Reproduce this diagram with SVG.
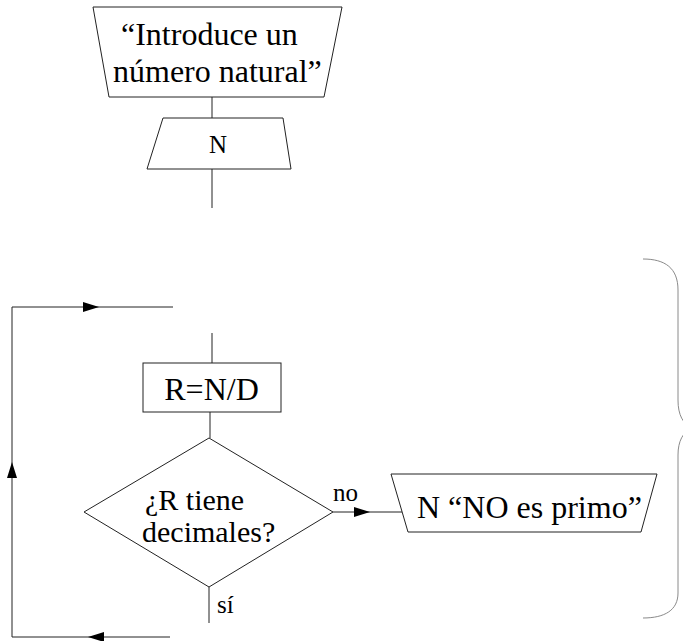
<svg xmlns="http://www.w3.org/2000/svg" width="683" height="641" viewBox="0 0 683 641">
  <style>
    .shape { fill: #fff; stroke: #222; stroke-width: 1; }
    .wire { fill: none; stroke: #222; stroke-width: 1; }
    .brace { fill: none; stroke: #8a8a8a; stroke-width: 1; }
    text { font-family: 'Liberation Serif', 'DejaVu Serif', serif; fill: #000; }
    .t { font-size: 32px; }
    .d { font-size: 30px; }
    .s { font-size: 25px; }
  </style>
  <defs>
    <marker id="arrow" viewBox="0 0 16 10" refX="16" refY="5" markerWidth="16" markerHeight="10" markerUnits="userSpaceOnUse" orient="auto">
      <path d="M0,0 L16,5 L0,10 Z" fill="#000"/>
    </marker>
  </defs>
  <rect width="683" height="641" fill="#fff"/>

  <!-- connectors -->
  <g id="connectors">
    <line class="wire" x1="212" y1="97" x2="212" y2="118"/>
    <line class="wire" x1="212" y1="169" x2="212" y2="208"/>
    <line class="wire" x1="212" y1="333" x2="212" y2="363"/>
    <line class="wire" x1="210" y1="412" x2="210" y2="438"/>
    <line class="wire" x1="209" y1="587" x2="209" y2="623"/>
    <!-- "no" branch with arrow at mid-line -->
    <path class="wire" d="M333,512 L370,512" marker-end="url(#arrow)"/>
    <line class="wire" x1="370" y1="512" x2="402" y2="512"/>
    <!-- loop back: bottom, left side, top -->
    <line class="wire" x1="170" y1="637" x2="104" y2="637"/>
    <path class="wire" d="M104,637 L88,637" marker-end="url(#arrow)"/>
    <line class="wire" x1="88" y1="637" x2="12" y2="637"/>
    <line class="wire" x1="12" y1="637" x2="12" y2="476"/>
    <path class="wire" d="M12,476 L12,462" marker-end="url(#arrow)"/>
    <line class="wire" x1="12" y1="462" x2="12" y2="307"/>
    <path class="wire" d="M12,307 L99,307" marker-end="url(#arrow)"/>
    <line class="wire" x1="99" y1="307" x2="173" y2="307"/>
  </g>

  <!-- input prompt -->
  <g id="prompt">
    <polygon class="shape" points="93,7 342,7 324,97 109,97"/>
    <text class="t" x="121" y="45">“Introduce un</text>
    <text class="t" x="113" y="82">número natural”</text>
  </g>

  <!-- read N -->
  <g id="readN">
    <polygon class="shape" points="163,118 283,118 291,169 147,169"/>
    <text class="s" x="218" y="153" text-anchor="middle">N</text>
  </g>

  <!-- division -->
  <g id="divide">
    <rect class="shape" x="143" y="363" width="138" height="49"/>
    <text class="t" x="211.5" y="400" text-anchor="middle">R=N/D</text>
  </g>

  <!-- decision -->
  <g id="decision">
    <polygon class="shape" points="209,438 333,512 209,587 84,512"/>
    <text class="d" x="145" y="510">¿R tiene</text>
    <text class="d" x="142" y="542">decimales?</text>
    <text class="s" x="333" y="501">no</text>
    <text class="s" x="217" y="613">sí</text>
  </g>

  <!-- output: not prime -->
  <g id="notPrime">
    <polygon class="shape" points="391,474 657,474 641,532 408,532"/>
    <text class="t" x="417" y="518">N “NO es primo”</text>
  </g>

  <!-- brace grouping the loop -->
  <g id="brace">
    <path class="brace" d="M643,259 C665,259 678,268 678,290 L678,400 C678,415 683,424 692,428 C683,432 678,441 678,455 L678,593 C678,610 665,618 643,618"/>
  </g>
</svg>
